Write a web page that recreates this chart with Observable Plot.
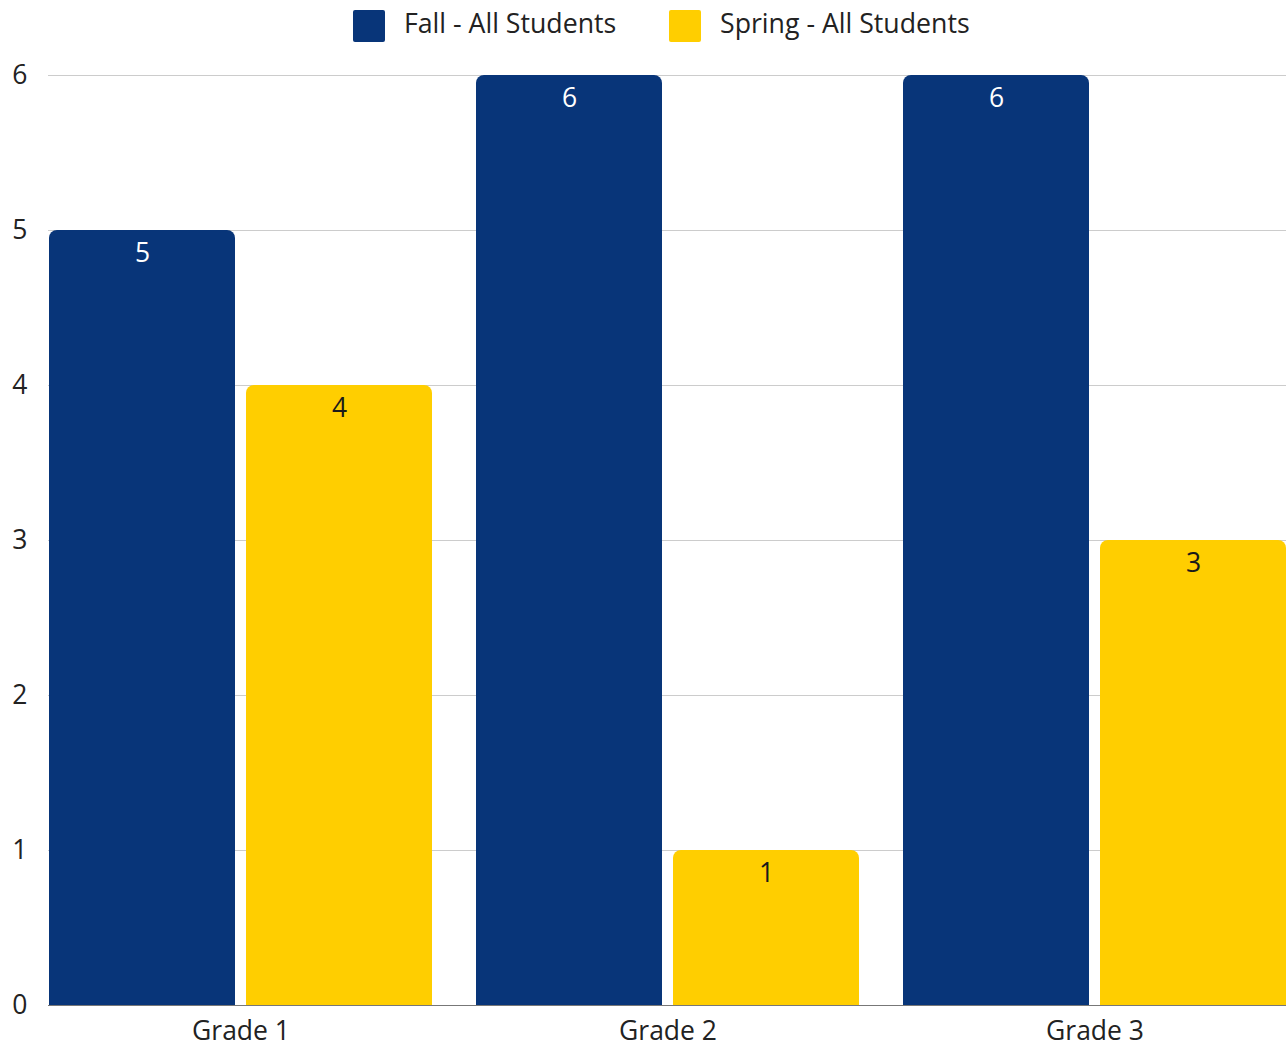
<!DOCTYPE html>
<html>
<head>
<meta charset="utf-8">
<script src="https://cdn.jsdelivr.net/npm/d3@7"></script>
<script src="https://cdn.jsdelivr.net/npm/@observablehq/plot@0.6"></script>
<style>
  body { margin: 0; background: #fff; font-family: "Open Sans", sans-serif; }
  #legend { position: relative; height: 50px; }
  .item { position: absolute; top: 10px; height: 32px; display: flex; align-items: center; font-size: 26.7px; color: #222; white-space: nowrap; }
  .sw { width: 32px; height: 32px; border-radius: 2px; margin-right: 19px; flex: none; }
  .item span { position: relative; top: -4px; }
</style>
</head>
<body>
<div id="legend"></div>
<div id="chart"></div>
<script>
// Students per grade, fall vs spring
const grades = ["Grade 1", "Grade 2", "Grade 3"];
const fallValues = [5, 6, 6];
const springValues = [4, 1, 3];
const seriesNames = ["Fall - All Students", "Spring - All Students"];
const seriesColors = ["#083579", "#FFCE00"];
const labelColors = ["#ffffff", "#1a1a1a"];
const yTicks = [0, 1, 2, 3, 4, 5, 6];

const fallRows = grades.map((g, i) => ({grade: g, value: fallValues[i]}));
const springRows = grades.map((g, i) => ({grade: g, value: springValues[i]}));

// Legend above the chart
const legendLeft = [353, 669];
const legend = document.getElementById("legend");
seriesNames.forEach((name, i) => {
  const item = document.createElement("div");
  item.className = "item";
  item.style.left = legendLeft[i] + "px";
  const sw = document.createElement("div");
  sw.className = "sw";
  sw.style.background = seriesColors[i];
  const label = document.createElement("span");
  label.textContent = name;
  item.append(sw, label);
  legend.append(item);
});

// Each grade band holds two bars: fall on the left, spring on the right
const barGap = 197;      // inset that leaves one bar per half of the band
const labelShift = 98.5; // offset from band centre to each bar centre

function seriesMarks(rows, i) {
  const side = i === 0 ? {insetRight: barGap} : {insetLeft: barGap};
  return [
    Plot.barY(rows, {x: "grade", y: "value", fill: seriesColors[i], rx: 8, ...side}),
    // square off the bottom corners
    Plot.barY(rows, {x: "grade", y: "value", fill: seriesColors[i], insetTop: 12, ...side}),
    Plot.text(rows, {
      x: "grade", y: "value", text: d => String(d.value),
      dx: i === 0 ? -labelShift : labelShift, dy: 23,
      fill: labelColors[i], fontSize: 26.5
    })
  ];
}

const chart = Plot.plot({
  width: 1286,
  height: 994,
  marginLeft: 48,
  marginRight: 0,
  marginTop: 25,
  marginBottom: 39,
  style: {fontFamily: "Open Sans", fontSize: "26.5px", color: "#222", background: "#fff"},
  // the last band runs a little past the right edge and is clipped there
  x: {domain: grades, range: [48, 1287], paddingInner: 0.102, paddingOuter: 0, label: null},
  y: {domain: [0, 6], label: null},
  marks: [
    Plot.ruleY(yTicks.filter(d => d > 0), {stroke: "#cccccc", strokeWidth: 1}),
    Plot.ruleY([0], {stroke: "#777777", strokeWidth: 1}),
    ...seriesMarks(fallRows, 0),
    ...seriesMarks(springRows, 1),
    Plot.axisY({ticks: yTicks, tickSize: 0, tickPadding: 21, tickFormat: d => String(d), label: null, fontSize: 26.5}),
    Plot.axisX({tickSize: 0, tickPadding: 16, label: null, fontSize: 26.5})
  ]
});
document.getElementById("chart").append(chart);
</script>
</body>
</html>
